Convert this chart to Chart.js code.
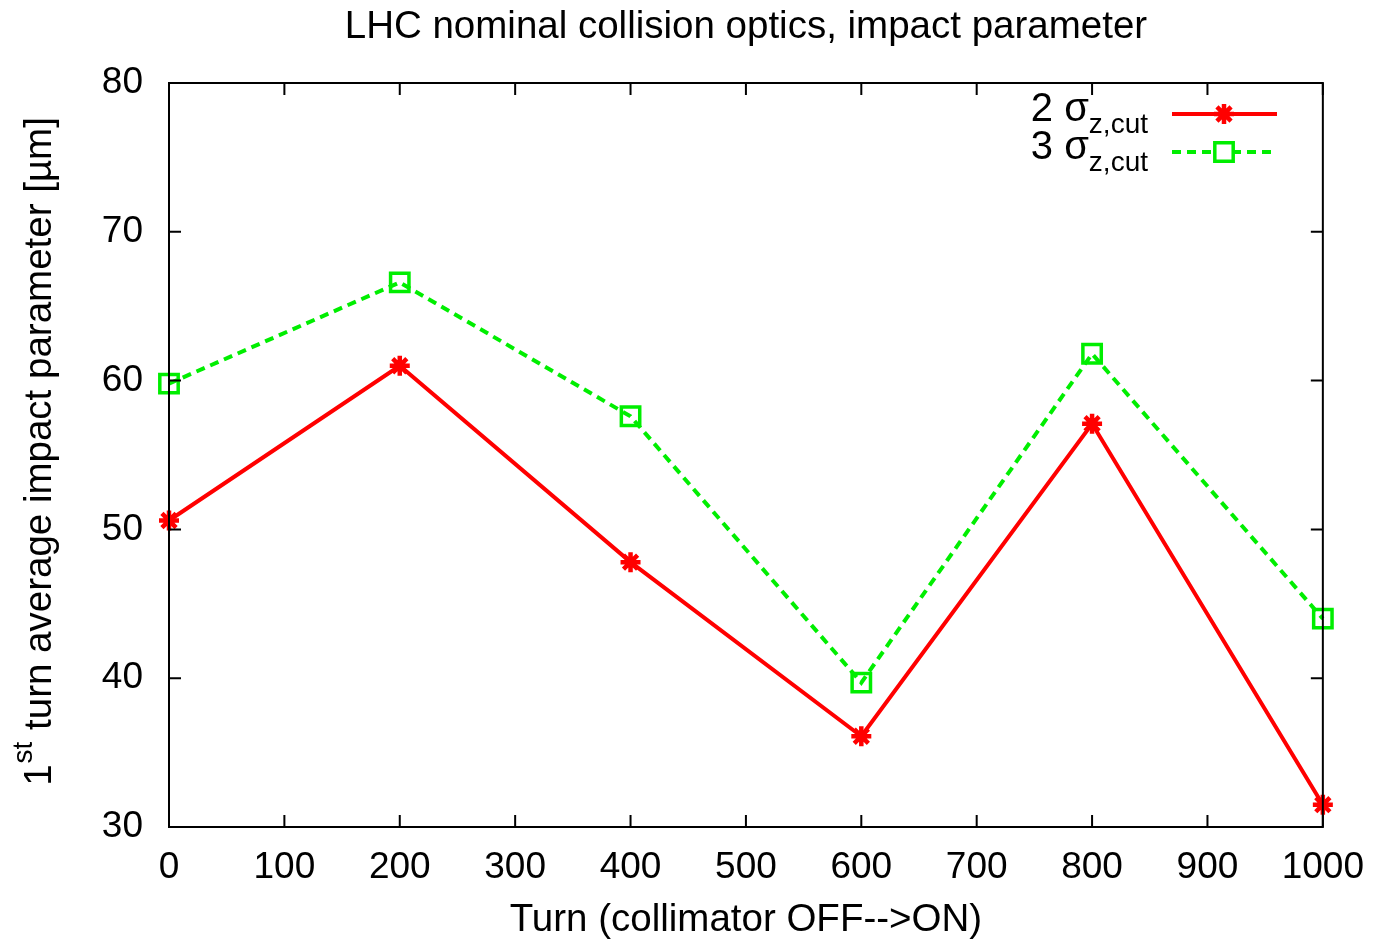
<!DOCTYPE html>
<html>
  <head>
    <title>LHC impact parameter</title>
    <script src="https://cdn.jsdelivr.net/npm/chart.js"></script>
    <style>
      body { margin: 0; background: #fff; }
    </style>
  </head>
  <body>
    <canvas id="impactChart" width="1375" height="943"></canvas>

    <script>
      // data
      const turns = [0, 200, 400, 600, 800, 1000];
      const cut2 = [50.6, 61.0, 47.8, 36.1, 57.1, 31.5];
      const cut3 = [59.8, 66.6, 57.6, 39.7, 61.8, 44.0];
      const seriesNames = ['2', '3'];
      const titleText = 'LHC nominal collision optics, impact parameter';

      const FONT = '"Liberation Sans", Arial, Helvetica, sans-serif';
      const RED = '#ff0000';
      const GREEN = '#00ee00';

      function pts(ys) {
        return turns.map((t, i) => ({ x: t, y: ys[i] }));
      }

      // frame + inward ticks on all four sides, like gnuplot
      const framePlugin = {
        id: 'frame',
        afterDatasetsDraw(chart) {
          const { ctx, chartArea: a, scales } = chart;
          const tl = 12;
          ctx.save();
          ctx.strokeStyle = '#000';
          ctx.lineWidth = 2;
          ctx.strokeRect(a.left, a.top, a.right - a.left, a.bottom - a.top);
          ctx.beginPath();
          scales.x.ticks.forEach(t => {
            const px = scales.x.getPixelForValue(t.value);
            ctx.moveTo(px, a.bottom); ctx.lineTo(px, a.bottom - tl);
            ctx.moveTo(px, a.top); ctx.lineTo(px, a.top + tl);
          });
          scales.y.ticks.forEach(t => {
            const py = scales.y.getPixelForValue(t.value);
            ctx.moveTo(a.left, py); ctx.lineTo(a.left + tl, py);
            ctx.moveTo(a.right, py); ctx.lineTo(a.right - tl, py);
          });
          ctx.stroke();
          ctx.restore();
        },
        afterDraw(chart) {
          const ctx = chart.ctx;
          const a = chart.chartArea;
          const big = '38.5px ' + FONT, small = '28px ' + FONT;

          // title, centred over the plot box
          ctx.save();
          ctx.fillStyle = '#000';
          ctx.font = big;
          ctx.textAlign = 'center';
          ctx.textBaseline = 'middle';
          ctx.fillText(titleText, (a.left + a.right) / 2, 27);
          ctx.restore();

          // y axis title with superscript
          ctx.save();
          ctx.fillStyle = '#000';
          ctx.translate(40, 452);
          ctx.rotate(-Math.PI / 2);
          ctx.textBaseline = 'middle';
          const rest = ' turn average impact parameter [\u00b5m]';
          ctx.font = big;
          const w1 = ctx.measureText('1').width;
          const w3 = ctx.measureText(rest).width;
          ctx.font = small;
          const w2 = ctx.measureText('st').width + 1;
          let x = -(w1 + w2 + w3) / 2;
          ctx.font = big;
          ctx.textAlign = 'left';
          ctx.fillText('1', x, 0);
          x += w1 + 1;
          ctx.font = small;
          ctx.fillText('st', x, -16);
          x += w2;
          ctx.font = big;
          ctx.fillText(rest, x, 0);
          ctx.restore();

          // legend with subscripts
          const rows = [
            { name: seriesNames[0], ds: chart.data.datasets[0], y: 114 },
            { name: seriesNames[1], ds: chart.data.datasets[1], y: 152 }
          ];
          rows.forEach(r => {
            ctx.save();
            ctx.fillStyle = '#000';
            ctx.textBaseline = 'middle';
            ctx.textAlign = 'left';
            ctx.font = small;
            const ws = ctx.measureText('z,cut').width;
            ctx.font = '40px ' + FONT;
            const wm = ctx.measureText(r.name + ' \u03c3').width;
            const right = 1148;
            ctx.fillText(r.name + ' \u03c3', right - ws - wm, r.y - 4);
            ctx.font = small;
            ctx.fillText('z,cut', right - ws, r.y + 11);

            ctx.strokeStyle = r.ds.borderColor;
            ctx.lineWidth = r.ds.borderWidth;
            ctx.setLineDash(r.ds.borderDash || []);
            ctx.beginPath();
            ctx.moveTo(1172, r.y);
            ctx.lineTo(1277, r.y);
            ctx.stroke();
            ctx.setLineDash([]);
            ctx.lineWidth = r.ds.pointBorderWidth;
            ctx.fillStyle = '#fff';
            Chart.helpers.drawPoint(ctx, {
              pointStyle: r.ds.pointStyle,
              radius: r.ds.pointRadius,
              borderWidth: r.ds.pointBorderWidth,
              rotation: 0
            }, 1224, r.y);
            ctx.restore();
          });
        }
      };

      const ctx = document.getElementById('impactChart').getContext('2d');
      const impactChart = new Chart(ctx, {
        type: 'line',
        data: {
          datasets: [{
            label: '2 sigma z,cut',
            data: pts(cut2),
            borderColor: RED,
            backgroundColor: RED,
            borderWidth: 4,
            pointStyle: 'star',
            pointRadius: 10,
            pointBorderWidth: 4.5,
            pointBorderColor: RED,
            fill: false,
            tension: 0,
            clip: false
          }, {
            label: '3 sigma z,cut',
            data: pts(cut3),
            borderColor: GREEN,
            backgroundColor: 'rgba(0,0,0,0)',
            borderWidth: 4,
            borderDash: [9, 6],
            pointStyle: 'rect',
            pointRadius: 13,
            pointBorderWidth: 3.5,
            pointBorderColor: GREEN,
            pointBackgroundColor: 'rgba(0,0,0,0)',
            fill: false,
            tension: 0,
            clip: false
          }]
        },
        options: {
          responsive: false,
          animation: false,
          layout: { padding: { left: 0, right: 52, top: 83, bottom: 0 } },
          plugins: {
            legend: { display: false },
            tooltip: { enabled: false },
            title: { display: false }
          },
          scales: {
            x: {
              type: 'linear',
              min: 0,
              max: 1000,
              grid: { display: false },
              border: { display: false },
              ticks: {
                stepSize: 100, color: '#000', padding: 11,
                font: { family: FONT, size: 37 },
                callback: v => String(v)
              },
              title: {
                display: true,
                text: 'Turn (collimator OFF-->ON)',
                color: '#000',
                padding: { top: 0, bottom: 0 },
                font: { family: FONT, size: 38.5, lineHeight: 1.2 }
              },
              afterFit(s) { s.height = 116; }
            },
            y: {
              min: 30,
              max: 80,
              grid: { display: false },
              border: { display: false },
              ticks: { stepSize: 10, color: '#000', padding: 18, font: { family: FONT, size: 37 } },
              afterFit(s) { s.width = 169; }
            }
          }
        },
        plugins: [framePlugin]
      });
    </script>
  </body>
</html>
